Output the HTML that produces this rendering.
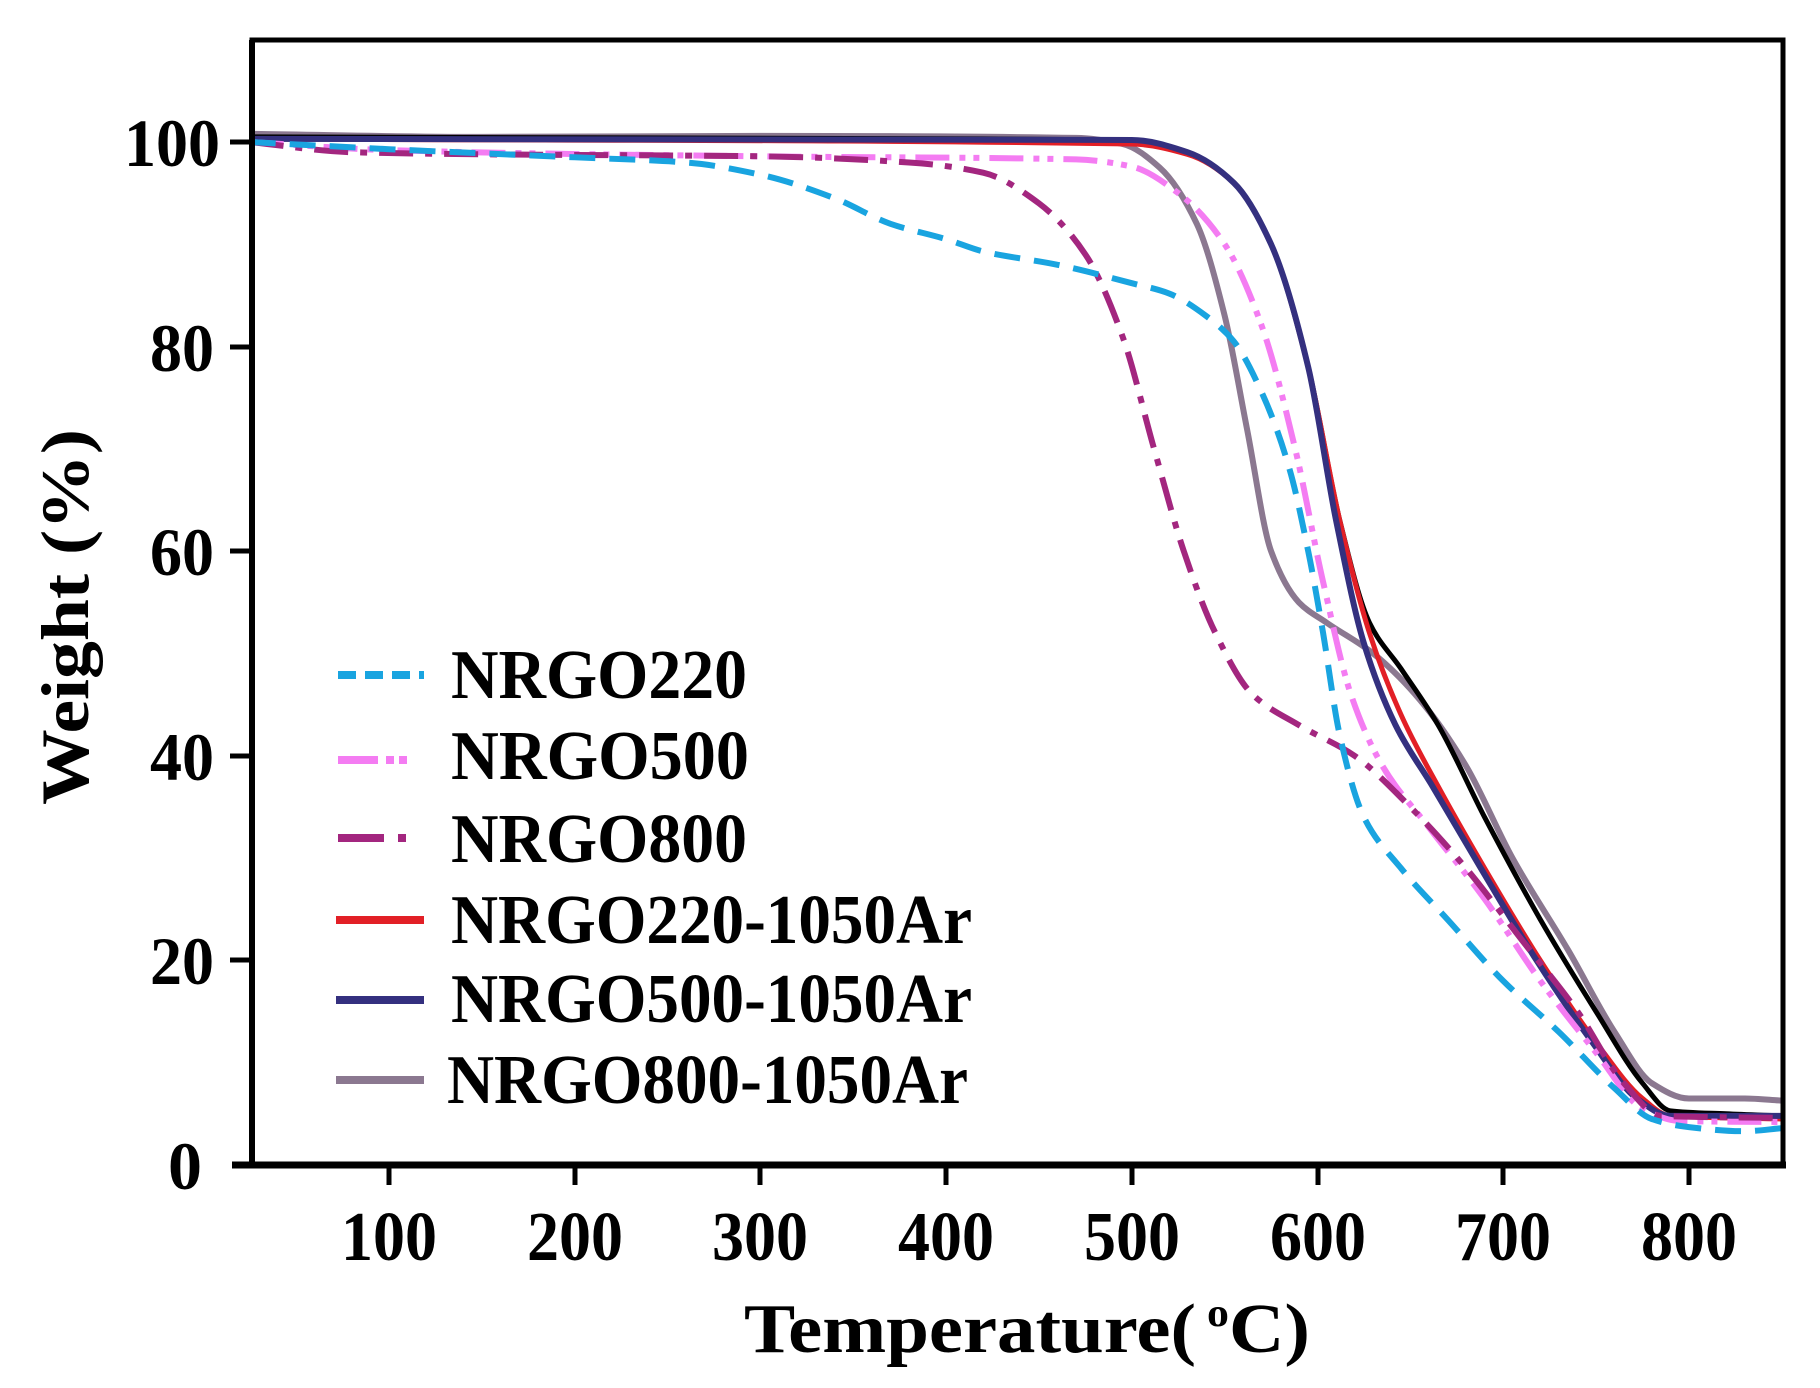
<!DOCTYPE html>
<html><head><meta charset="utf-8"><style>
html,body{margin:0;padding:0;background:#fff;}
svg{display:block;}
text{font-family:"Liberation Serif",serif;font-weight:bold;fill:#000;}
</style></head><body>
<svg id="s" width="1820" height="1388" viewBox="0 0 1820 1388" xmlns="http://www.w3.org/2000/svg">
<g id="curves" fill="none" stroke-linejoin="round"></g>
<path d="M252,1165 L252,40 L1783,40 L1783,1165" fill="none" stroke="#000" stroke-width="5"/>
<line x1="232" y1="1165" x2="1786" y2="1165" stroke="#000" stroke-width="7"/>
<line x1="252" y1="40" x2="252" y2="1168" stroke="#000" stroke-width="6"/>
<g stroke="#000" stroke-width="5">
<line x1="230" y1="142" x2="252" y2="142"/>
<line x1="230" y1="347" x2="252" y2="347"/>
<line x1="230" y1="551" x2="252" y2="551"/>
<line x1="230" y1="756" x2="252" y2="756"/>
<line x1="230" y1="960" x2="252" y2="960"/>
<line x1="389" y1="1165" x2="389" y2="1185"/>
<line x1="575" y1="1165" x2="575" y2="1185"/>
<line x1="760" y1="1165" x2="760" y2="1185"/>
<line x1="946" y1="1165" x2="946" y2="1185"/>
<line x1="1132" y1="1165" x2="1132" y2="1185"/>
<line x1="1318" y1="1165" x2="1318" y2="1185"/>
<line x1="1503" y1="1165" x2="1503" y2="1185"/>
<line x1="1689" y1="1165" x2="1689" y2="1185"/>
</g>
<g font-size="68" text-anchor="end">
<text x="220" y="166" textLength="96" lengthAdjust="spacingAndGlyphs">100</text>
<text x="214" y="371" textLength="64" lengthAdjust="spacingAndGlyphs">80</text>
<text x="214" y="575" textLength="64" lengthAdjust="spacingAndGlyphs">60</text>
<text x="214" y="780" textLength="64" lengthAdjust="spacingAndGlyphs">40</text>
<text x="214" y="984" textLength="64" lengthAdjust="spacingAndGlyphs">20</text>
<text x="202" y="1189">0</text>
</g>
<g font-size="70" text-anchor="middle">
<text x="389" y="1260" textLength="96" lengthAdjust="spacingAndGlyphs">100</text>
<text x="575" y="1260" textLength="96" lengthAdjust="spacingAndGlyphs">200</text>
<text x="760" y="1260" textLength="96" lengthAdjust="spacingAndGlyphs">300</text>
<text x="946" y="1260" textLength="96" lengthAdjust="spacingAndGlyphs">400</text>
<text x="1132" y="1260" textLength="96" lengthAdjust="spacingAndGlyphs">500</text>
<text x="1318" y="1260" textLength="96" lengthAdjust="spacingAndGlyphs">600</text>
<text x="1503" y="1260" textLength="96" lengthAdjust="spacingAndGlyphs">700</text>
<text x="1689" y="1260" textLength="96" lengthAdjust="spacingAndGlyphs">800</text>
</g>
<text x="744" y="1352" font-size="70" textLength="566" lengthAdjust="spacingAndGlyphs">Temperature(<tspan font-size="40" dy="-26"> o</tspan><tspan dy="26">C)</tspan></text>
<text transform="translate(88,617) rotate(-90)" text-anchor="middle" font-size="68" textLength="376" lengthAdjust="spacingAndGlyphs">Weight (%)</text>
<g stroke-width="8" fill="none">
<line x1="338" y1="675" x2="424" y2="675" stroke="#19a4e0" stroke-dasharray="18,9"/>
<line x1="338" y1="760" x2="424" y2="760" stroke="#f47cf2" stroke-dasharray="40,8,8,5,8"/>
<line x1="338" y1="838" x2="424" y2="838" stroke="#a3267f" stroke-dasharray="46,14,8"/>
<line x1="336" y1="920" x2="424" y2="920" stroke="#e21f26"/>
<line x1="336" y1="1000" x2="424" y2="1000" stroke="#34307f"/>
<line x1="336" y1="1080" x2="424" y2="1080" stroke="#8b7890"/>
</g>
<g font-size="70">
<text x="451" y="698" textLength="296" lengthAdjust="spacingAndGlyphs">NRGO220</text>
<text x="451" y="779" textLength="298" lengthAdjust="spacingAndGlyphs">NRGO500</text>
<text x="451" y="862" textLength="296" lengthAdjust="spacingAndGlyphs">NRGO800</text>
<text x="451" y="943" textLength="521" lengthAdjust="spacingAndGlyphs">NRGO220-1050Ar</text>
<text x="451" y="1022" textLength="521" lengthAdjust="spacingAndGlyphs">NRGO500-1050Ar</text>
<text x="447" y="1103" textLength="521" lengthAdjust="spacingAndGlyphs">NRGO800-1050Ar</text>
</g>
</svg>
<script>
(function(){
function X(t){return 389+(t-100)*1.857;}
function Y(w){return 1165-w*10.23;}
function path(pts){
 var p=pts.map(function(a){return [X(a[0]),Y(a[1])];});
 var n=p.length,d=[],m=[];
 for(var i=0;i<n-1;i++)d.push((p[i+1][1]-p[i][1])/(p[i+1][0]-p[i][0]));
 m[0]=d[0];m[n-1]=d[n-2];
 for(i=1;i<n-1;i++){ if(d[i-1]*d[i]<=0)m[i]=0; else { var h0=p[i][0]-p[i-1][0],h1=p[i+1][0]-p[i][0]; var w1=2*h1+h0,w2=h1+2*h0; m[i]=(w1+w2)/(w1/d[i-1]+w2/d[i]); } }
 var s="M"+p[0][0].toFixed(1)+","+p[0][1].toFixed(1);
 for(i=0;i<n-1;i++){
  var h=p[i+1][0]-p[i][0];
  s+=" C"+(p[i][0]+h/3).toFixed(1)+","+(p[i][1]+m[i]*h/3).toFixed(1)+" "+(p[i+1][0]-h/3).toFixed(1)+","+(p[i+1][1]-m[i+1]*h/3).toFixed(1)+" "+p[i+1][0].toFixed(1)+","+p[i+1][1].toFixed(1);
 }
 return s;
}
var S=[
 {c:"#8b7890",w:6,da:"",p:[[25,100.8],[150,100.5],[300,100.6],[470,100.4],[495,99.8],[515,97.5],[535,92],[550,83],[562,72],[575,60],[590,55],[605,53],[630,50],[655,45.5],[680,39],[705,30],[735,21],[760,13],[780,8],[800,6.5],[830,6.5],[850,6.3]]},
 {c:"#000",w:5,da:"",p:[[25,100.5],[500,100.2],[530,99],[555,96],[575,90],[595,78],[612,63],[628,53],[645,48.5],[665,43],[690,34],[720,24],[750,15],[775,8],[790,5.3],[820,5],[850,4.8]]},
 {c:"#e21f26",w:5,da:"",p:[[25,100.3],[500,99.8],[530,98.8],[555,96],[575,90],[595,78],[612,63],[628,52],[645,44],[665,37],[690,29],[720,20],[750,12],[775,6.5],[790,4.8],[850,4.5]]},
 {c:"#34307f",w:6,da:"",p:[[25,100.3],[500,100.2],[530,99],[555,96],[575,90],[595,78],[610,63],[625,51],[642,43],[662,37],[688,29],[718,20],[748,12],[772,6.5],[790,4.8],[850,4.8]]},
 {c:"#f47cf2",w:6,da:"34,10,6,8,6,10",p:[[25,100],[100,99.2],[300,98.6],[470,98.3],[500,97.6],[525,95],[550,90],[570,82],[588,70],[603,57],[618,46],[635,39],[660,33],[690,26],[720,18],[750,11],[775,5.5],[795,4.3],[850,4.2]]},
 {c:"#a3267f",w:6,da:"34,12,7,12",p:[[25,100],[80,99],[150,98.8],[300,98.6],[380,98],[420,97],[450,94],[475,89],[495,81],[512,70],[528,60],[545,52],[565,46],[590,43],[620,40],[650,35],[680,29],[710,22],[740,15],[765,8],[785,4.8],[850,4.6]]},
 {c:"#19a4e0",w:6,da:"26,14",p:[[25,100],[100,99.3],[200,98.5],[260,98],[300,96.8],[340,94.5],[370,92],[400,90.5],[420,89.3],[460,88],[500,86.2],[520,85.2],[540,83],[555,80.5],[570,75.5],[585,68],[595,60],[603,52],[612,42],[625,34],[645,29],[670,24],[700,18],[730,13],[760,7.5],[780,4.5],[800,3.7],[830,3.3],[850,3.6]]}
];
var g=document.getElementById("curves"),ns="http://www.w3.org/2000/svg";
S.forEach(function(s){var e=document.createElementNS(ns,"path");e.setAttribute("d",path(s.p));e.setAttribute("stroke",s.c);e.setAttribute("stroke-width",s.w);if(s.da)e.setAttribute("stroke-dasharray",s.da);g.appendChild(e);});
})();
</script>
</body></html>
